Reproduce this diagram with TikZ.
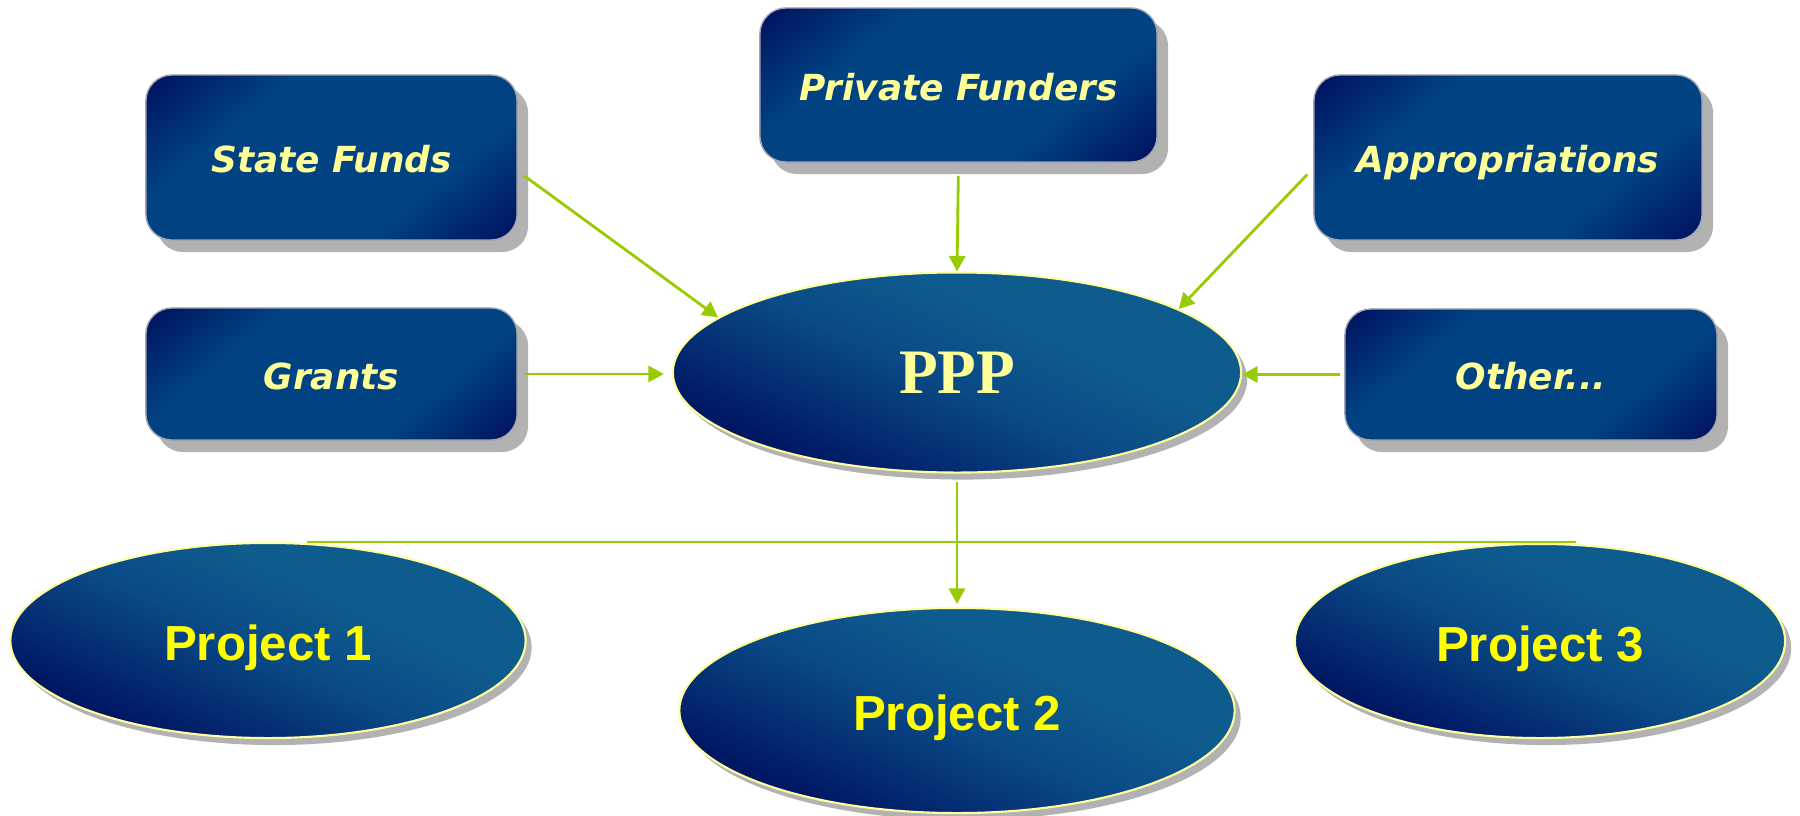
\documentclass[tikz,border=0pt]{standalone}
\usepackage{fontspec}
\setmainfont{Liberation Serif}
\newfontfamily\boxfont{DejaVu Sans}
\newfontfamily\projfont{Liberation Sans}
\usetikzlibrary{arrows.meta,shadows,calc,shapes.geometric}
\definecolor{bdark}{RGB}{0,14,92}
\definecolor{bmid}{RGB}{0,66,130}
\definecolor{elight}{RGB}{14,92,142}
\definecolor{emid}{RGB}{10,74,134}
\definecolor{edark}{RGB}{0,24,100}
\definecolor{eline}{RGB}{255,255,160}
\definecolor{boxedge}{RGB}{165,165,175}
\definecolor{shadowgray}{RGB}{178,178,178}
\definecolor{agreen}{RGB}{153,204,0}
\definecolor{boxtext}{RGB}{255,255,153}
\definecolor{projtext}{RGB}{255,255,0}
\pgfdeclareverticalshading{boxshade}{100bp}{color(0bp)=(bdark); color(14bp)=(bdark); color(33bp)=(bmid); color(67bp)=(bmid); color(86bp)=(bdark); color(100bp)=(bdark)}
\pgfdeclareverticalshading{ellshade}{100bp}{color(0bp)=(edark); color(28bp)=(edark); color(48bp)=(emid); color(62bp)=(elight); color(100bp)=(elight)}
\begin{document}
\begin{tikzpicture}[x=0.01cm,y=-0.01cm,
  srcbox/.style={rectangle, rounded corners=0.26cm, draw=boxedge, line width=0.4pt,
    inner sep=0pt, shading=boxshade, shading angle=40,
    drop shadow={shadow xshift=0.11cm, shadow yshift=-0.12cm, fill=shadowgray, opacity=1},
    font=\boxfont\bfseries\itshape\fontsize{10.2}{12}\selectfont, text=boxtext,
    text height=8.8pt, text depth=0pt},
  ell/.style={ellipse, draw=eline, line width=0.6pt, inner sep=0pt,
    shading=ellshade, shading angle=-25,
    drop shadow={shadow xshift=0.06cm, shadow yshift=-0.07cm, fill=shadowgray, opacity=1}},
  projell/.style={ell, font=\projfont\bfseries\fontsize{14}{16}\selectfont, text=projtext,
    text height=11.6pt, text depth=0pt},
  arr/.style={draw=agreen, line width=0.8pt, -{Triangle[length=4.4pt,width=4.6pt]}},
  conn/.style={draw=agreen, line width=0.8pt}
]
\fill[white] (0,0) rectangle (1800,815);
\useasboundingbox (0,0) rectangle (1800,815);

% source boxes
\node[srcbox, minimum width=3.71cm, minimum height=1.65cm] (sf) at (331.5,157.5) {State Funds};
\node[srcbox, minimum width=3.97cm, minimum height=1.54cm] (pf) at (958.5,85) {Private Funders};
\node[srcbox, minimum width=3.88cm, minimum height=1.65cm] (ap) at (1508,157.5) {Appropriations};
\node[srcbox, minimum width=3.71cm, minimum height=1.32cm] (gr) at (331.5,374) {Grants};
\node[srcbox, minimum width=3.72cm, minimum height=1.31cm] (ot) at (1531,374.5) {Other...};

% central ellipse
\node[ell, minimum width=5.68cm, minimum height=2.0cm,
      font=\bfseries\fontsize{18}{20}\selectfont, text=boxtext,
      text height=12pt, text depth=0pt] (ppp) at (957,372.5) {PPP};

% projects
\node[projell, minimum width=5.15cm, minimum height=1.95cm] (p1) at (268,640.5) {Project 1};
\node[projell, minimum width=5.55cm, minimum height=2.05cm] (p2) at (957,710.5) {Project 2};
\node[projell, minimum width=4.90cm, minimum height=1.94cm] (p3) at (1540,641) {Project 3};

% connectors into PPP
\draw[arr] ($(sf.east)+(6,18)$) -- (ppp.167);
\draw[arr, shorten <=0.13cm] (pf.south) -- (ppp.north);
\draw[arr] ($(ap.west)+(-6,17)$) -- (ppp.16.7);
\draw[arr, shorten <=0.06cm, shorten >=0.08cm] (gr.east) -- (gr.east -| ppp.west);
\draw[arr, shorten <=0.04cm] (ot.west) -- (ot.west -| ppp.east);

% PPP to projects
\coordinate (hl) at (307,542);
\coordinate (hr) at (1576,542);
\draw[conn] (hl) -- (hr);
\draw[arr, shorten <=0.08cm, shorten >=0.03cm] (ppp.south) -- (p2.north);
\end{tikzpicture}
\end{document}
